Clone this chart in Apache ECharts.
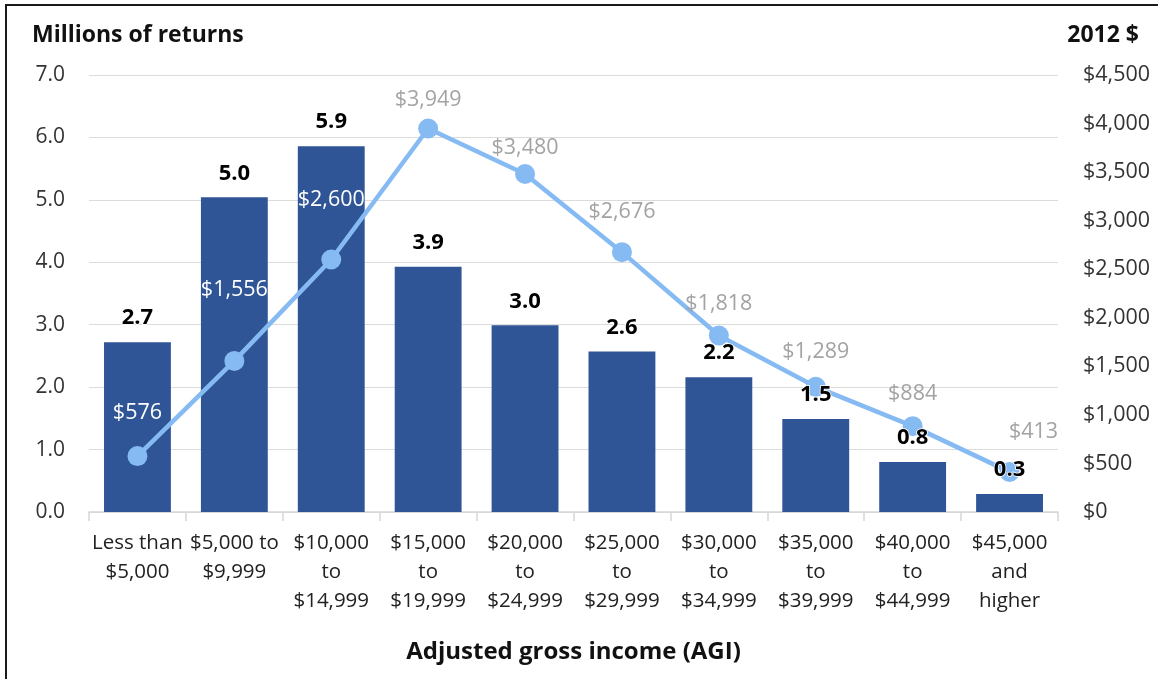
<!DOCTYPE html>
<html>
<head>
<meta charset="utf-8">
<script src="https://cdn.jsdelivr.net/npm/echarts@6/dist/echarts.min.js"></script>
<style>
  html, body { margin: 0; padding: 0; background: #fff; }
  #frame { position: absolute; left: 5px; top: 4px; width: 1170px; height: 673px;
           border-left: 2.5px solid #1a1a1a; border-top: 2.5px solid #1a1a1a; border-bottom: 1px solid #cfcfcf; }
  #chart { position: absolute; left: 0; top: 0; width: 1158px; height: 679px; }
</style>
</head>
<body>
<div id="frame"></div>
<div id="chart"></div>
<script>
const categories = [
  'Less than\n$5,000', '$5,000 to\n$9,999', '$10,000\nto\n$14,999', '$15,000\nto\n$19,999',
  '$20,000\nto\n$24,999', '$25,000\nto\n$29,999', '$30,000\nto\n$34,999', '$35,000\nto\n$39,999',
  '$40,000\nto\n$44,999', '$45,000\nand\nhigher'
];
const returnsMillions = [2.72, 5.04, 5.86, 3.93, 2.99, 2.57, 2.16, 1.49, 0.80, 0.29];
const avgCredit2012 = [576, 1556, 2600, 3949, 3480, 2676, 1818, 1289, 884, 413];
const leftTicks = { min: 0, max: 7, interval: 1 };
const rightTicks = { min: 0, max: 4500, interval: 500 };

// label styling (not data)
const lineLabelDistance = [22, 50, 39, 8, 5, 19, 11, 14, 11, 19];
const lineLabelOnBar = [true, true, true, false, false, false, false, false, false, false];

const FONT = '"Open Sans", "Noto Sans", sans-serif';
const fmtDollar = v => '$' + Math.round(v).toLocaleString('en-US');
const LINE_BLUE = '#86BAF3';

const lineData = avgCredit2012.map((v, i) => ({
  value: v,
  label: {
    color: lineLabelOnBar[i] ? '#ffffff' : '#a3a3a3',
    distance: lineLabelDistance[i],
    offset: i === avgCredit2012.length - 1 ? [24, 0] : [0, 0]
  }
}));

const chart = echarts.init(document.getElementById('chart'));
chart.setOption({
  animation: false,
  textStyle: { fontFamily: FONT },
  title: [
    { text: 'Millions of returns', left: 27, top: 19,
      textStyle: { fontFamily: FONT, fontSize: 23, fontWeight: 'bold', color: '#111' } },
    { text: '2012 $', right: 14, top: 19,
      textStyle: { fontFamily: FONT, fontSize: 23, fontWeight: 'bold', color: '#111' } }
  ],
  grid: { left: 89, right: 100, top: 75, bottom: 167 },
  xAxis: {
    type: 'category',
    data: categories,
    name: 'Adjusted gross income (AGI)',
    nameLocation: 'middle',
    nameGap: 128,
    nameTextStyle: { fontFamily: FONT, fontSize: 24, fontWeight: 'bold', color: '#111' },
    axisLine: { lineStyle: { color: '#d6d6d6', width: 1.5 } },
    axisTick: { show: true, alignWithLabel: false, length: 9, lineStyle: { color: '#d6d6d6', width: 1.5 } },
    axisLabel: { interval: 0, fontSize: 20.5, lineHeight: 29, color: '#222', margin: 17, fontFamily: FONT }
  },
  yAxis: [
    {
      type: 'value', min: leftTicks.min, max: leftTicks.max, interval: leftTicks.interval,
      axisLine: { show: false }, axisTick: { show: false },
      splitLine: { lineStyle: { color: '#dcdcdc', width: 1.2 } },
      axisLabel: { fontSize: 21, color: '#333', margin: 24, formatter: v => v.toFixed(1), fontFamily: FONT }
    },
    {
      type: 'value', min: rightTicks.min, max: rightTicks.max, interval: rightTicks.interval,
      axisLine: { show: false }, axisTick: { show: false }, splitLine: { show: false },
      axisLabel: { fontSize: 21.5, color: '#333', margin: 25, formatter: fmtDollar, fontFamily: FONT }
    }
  ],
  series: [
    {
      type: 'bar', yAxisIndex: 0, data: returnsMillions, barWidth: '69%',
      itemStyle: { color: '#2F5597' },
      z: 2
    },
    {
      type: 'line', yAxisIndex: 1, data: lineData,
      symbol: 'circle', symbolSize: 20,
      lineStyle: { color: LINE_BLUE, width: 4.5 },
      itemStyle: { color: LINE_BLUE },
      label: { show: true, position: 'top', fontSize: 21.5, fontFamily: FONT,
               formatter: p => fmtDollar(p.value) },
      z: 3
    },
    {
      // label layer for the bars, drawn above the line
      type: 'bar', yAxisIndex: 0, data: returnsMillions, barWidth: '69%', barGap: '-100%',
      itemStyle: { color: 'rgba(0,0,0,0)' }, silent: true,
      label: { show: true, position: 'top', distance: 13, fontSize: 22, fontWeight: 'bold',
               color: '#000', textBorderColor: '#fff', textBorderWidth: 1.5,
               formatter: p => p.value.toFixed(1), fontFamily: FONT },
      z: 5
    }
  ]
});
</script>
</body>
</html>
